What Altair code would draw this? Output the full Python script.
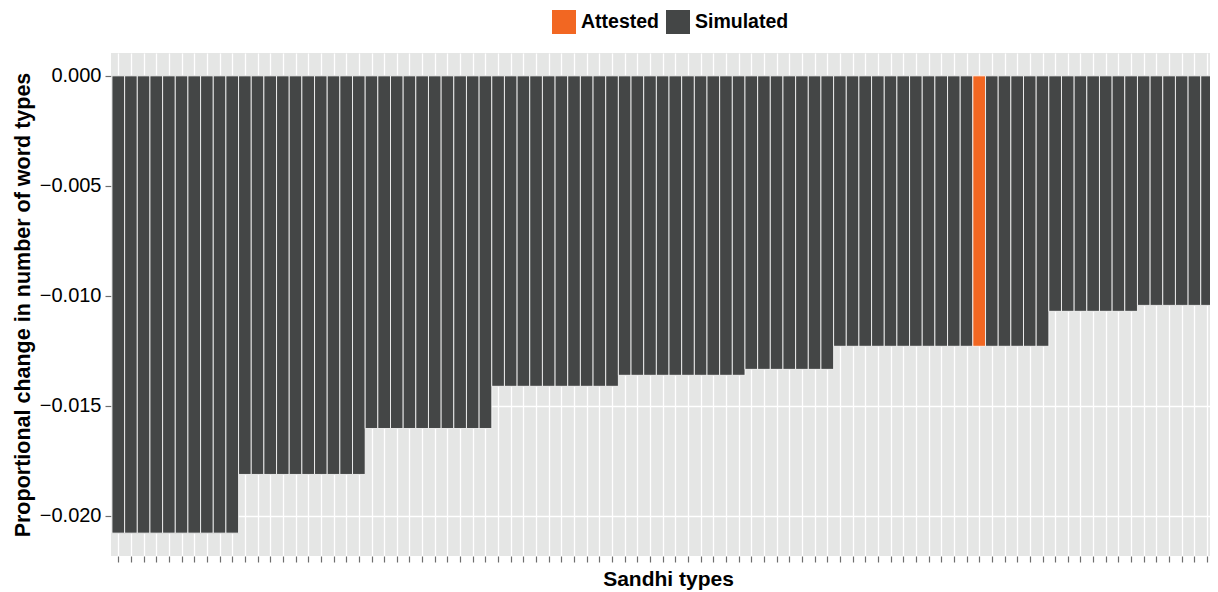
import altair as alt
import pandas as pd

# Proportional change in number of word types per sandhi type (sorted)
change = [
    -0.0208, -0.0208, -0.0208, -0.0208, -0.0208, -0.0208, -0.0208, -0.0208, -0.0208, -0.0208,
    -0.01813, -0.01813, -0.01813, -0.01813, -0.01813, -0.01813, -0.01813, -0.01813, -0.01813, -0.01813,
    -0.01604, -0.01604, -0.01604, -0.01604, -0.01604, -0.01604, -0.01604, -0.01604, -0.01604, -0.01604,
    -0.01412, -0.01412, -0.01412, -0.01412, -0.01412, -0.01412, -0.01412, -0.01412, -0.01412, -0.01412,
    -0.01362, -0.01362, -0.01362, -0.01362, -0.01362, -0.01362, -0.01362, -0.01362, -0.01362, -0.01362,
    -0.01335, -0.01335, -0.01335, -0.01335, -0.01335, -0.01335, -0.01335,
    -0.0123, -0.0123, -0.0123, -0.0123, -0.0123, -0.0123, -0.0123, -0.0123, -0.0123, -0.0123,
    -0.0123, -0.0123, -0.0123, -0.0123, -0.0123, -0.0123, -0.0123,
    -0.01071, -0.01071, -0.01071, -0.01071, -0.01071, -0.01071, -0.01071,
    -0.01044, -0.01044, -0.01044, -0.01044, -0.01044, -0.01044, -0.01044,
]
attested_index = [68]
y_ticks = [0.0, -0.005, -0.010, -0.015, -0.020]

df = pd.DataFrame({
    "idx": list(range(len(change))),
    "change": change,
    "kind": ["Attested" if i in attested_index else "Simulated" for i in range(len(change))],
})

x_scale = alt.Scale(domain=[-0.577, 86.23], nice=False, zero=False)
y_scale = alt.Scale(domain=[-0.02184, 0.00104], nice=False, zero=False)

bars = alt.Chart(df).transform_calculate(
    x0="datum.idx - 0.5", x1="datum.idx + 0.5"
).mark_bar(clip=True, stroke="white", strokeWidth=0.8).encode(
    x=alt.X("x0:Q", scale=x_scale,
            axis=alt.Axis(values=list(range(87)), labels=False, domain=False,
                          tickSize=6, tickColor="#6e6e6e", tickWidth=1.2,
                          grid=True, gridColor="white", gridWidth=1.3,
                          title="Sandhi types", titleFontSize=21, titleFontWeight="bold",
                          titleColor="black", titlePadding=6, titleFont="Liberation Sans",
                          titleX=557)),
    x2="x1:Q",
    y=alt.Y("change:Q", scale=y_scale,
            axis=alt.Axis(values=y_ticks, format=".3f", domain=False,
                          tickSize=6, tickColor="#6e6e6e", tickWidth=1.2,
                          labelFontSize=20, labelColor="black", labelFont="Liberation Sans",
                          labelPadding=4,
                          grid=True, gridColor="white", gridWidth=1.3,
                          title="Proportional change in number of word types",
                          titleFontSize=21.5, titleFontWeight="bold", titleColor="black",
                          titleFont="Liberation Sans", titlePadding=5)),
    y2=alt.datum(0),
    color=alt.Color("kind:N",
                    scale=alt.Scale(domain=["Attested", "Simulated"], range=["#F26722", "#444646"]),
                    legend=alt.Legend(title=None, orient="none", legendX=441, legendY=-43,
                                      direction="horizontal", symbolType="square",
                                      symbolSize=576, symbolStrokeWidth=0,
                                      labelFontSize=19.5, labelFontWeight="bold",
                                      labelFont="Liberation Sans", labelColor="black",
                                      labelOffset=5, columnPadding=6, padding=0)),
)

chart = bars.properties(
    width=1099, height=503,
    autosize=alt.AutoSizeParams(type="none"),
    padding={"left": 103, "top": 45, "right": 0, "bottom": 36},
).configure_view(fill="#E5E6E5", stroke=None)

chart.save("out.html", embed_options={"renderer": "svg", "actions": False})
